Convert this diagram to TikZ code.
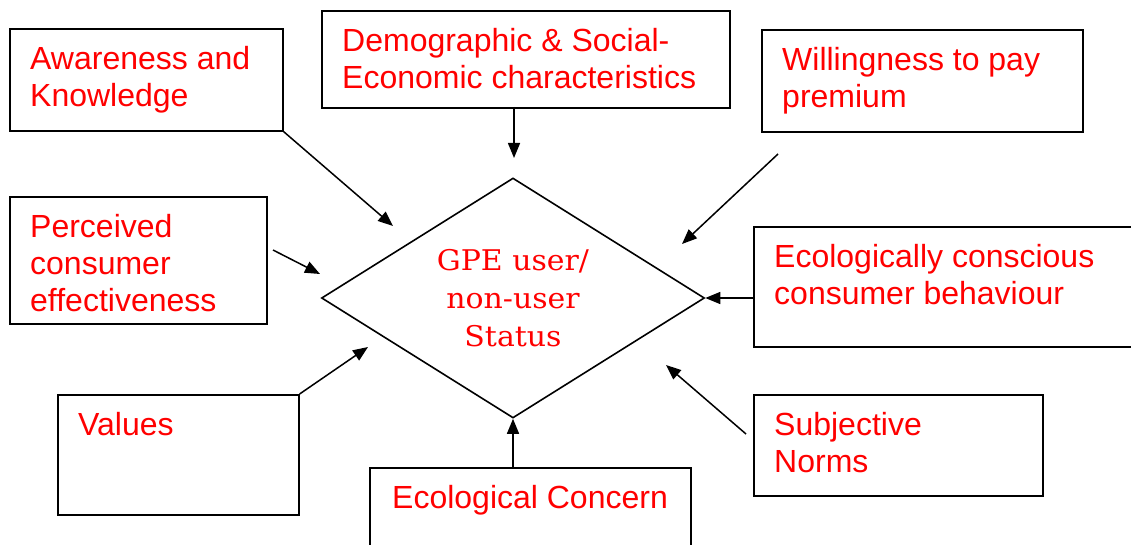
\documentclass[tikz,border=0pt]{standalone}
\usepackage{fontspec}
\setmainfont{Liberation Sans}
\newfontfamily\statusfont[FakeStretch=1.05]{DejaVu Serif}
\usetikzlibrary{shapes.geometric,arrows.meta}

\begin{document}
\begin{tikzpicture}[x=1pt,y=-1pt,
  factorbox/.style={draw=black,line width=1.6pt,rectangle,inner sep=0pt,anchor=north west},
  factortext/.style={anchor=north west,inner sep=0pt,align=left,text=red,
    font=\fontsize{32}{37}\selectfont,xshift=21pt,yshift=-11pt},
  link/.style={line width=1.5pt,-{Triangle[length=15pt,width=12pt]}}]

\useasboundingbox (0,0) rectangle (1131,545);
\clip (0,0) rectangle (1131,545);

% central decision diamond
\node (gpe) [diamond,aspect=1.6,draw=black,line width=1.6pt,minimum width=383pt,minimum height=240pt,
  inner sep=0pt,align=center,text=red,font=\statusfont\fontsize{28.5}{38}\selectfont]
  at (513,298) {GPE user/\\non-user\\Status};

% factor boxes
\node (aw)  [factorbox,minimum width=273pt,minimum height=102pt] at (9,28) {};
\node (dem) [factorbox,minimum width=408pt,minimum height=97pt]  at (321,10) {};
\node (wil) [factorbox,minimum width=321pt,minimum height=102pt] at (761,29) {};
\node (per) [factorbox,minimum width=257pt,minimum height=127pt] at (9,196) {};
\node (val) [factorbox,minimum width=241pt,minimum height=120pt] at (57,394) {};
\node (eco) [factorbox,minimum width=390pt,minimum height=120pt] at (753,226) {};
\node (sub) [factorbox,minimum width=289pt,minimum height=101pt] at (753,394) {};
\node (con) [factorbox,minimum width=321pt,minimum height=90pt]  at (369,467) {};

% box labels
\node (aw-t)  [factortext] at (aw.north west)  {\rule{0pt}{30pt}Awareness and\\Knowledge};
\node (dem-t) [factortext] at (dem.north west) {\rule{0pt}{30pt}Demographic \& Social-\\Economic characteristics};
\node (wil-t) [factortext] at (wil.north west) {\rule{0pt}{30pt}Willingness to pay\\premium};
\node (per-t) [factortext] at (per.north west) {\rule{0pt}{30pt}Perceived\\consumer\\effectiveness};
\node (val-t) [factortext] at (val.north west) {\rule{0pt}{30pt}Values};
\node (eco-t) [factortext] at (eco.north west) {\rule{0pt}{30pt}Ecologically conscious\\consumer behaviour};
\node (sub-t) [factortext] at (sub.north west) {\rule{0pt}{30pt}Subjective\\Norms};
\node (con-t) [factortext,xshift=2pt] at (con.north west) {\rule{0pt}{30pt}Ecological Concern};

% free ends of the connectors
\coordinate (dem-s) at (514,107);
\coordinate (dem-e) at (514,158);
\coordinate (aw-e)  at (393,226);
\coordinate (wil-s) at (778,154);
\coordinate (wil-e) at (682,244);
\coordinate (per-s) at (273,250);
\coordinate (per-e) at (320,274);
\coordinate (val-e) at (368,347);
\coordinate (eco-s) at (753,298);
\coordinate (sub-s) at (746,434);
\coordinate (sub-e) at (666,365);
\coordinate (con-s) at (513,467);

% influences on the user status
\draw[link] (aw.south east) -- (aw-e);
\draw[link] (dem-s) -- (dem-e);
\draw[link] (wil-s) -- (wil-e);
\draw[link] (per-s) -- (per-e);
\draw[link] (val.north east) -- (val-e);
\draw[link] (eco-s) -- (gpe.east);
\draw[link] (sub-s) -- (sub-e);
\draw[link] (con-s) -- (gpe.south);

\end{tikzpicture}
\end{document}
